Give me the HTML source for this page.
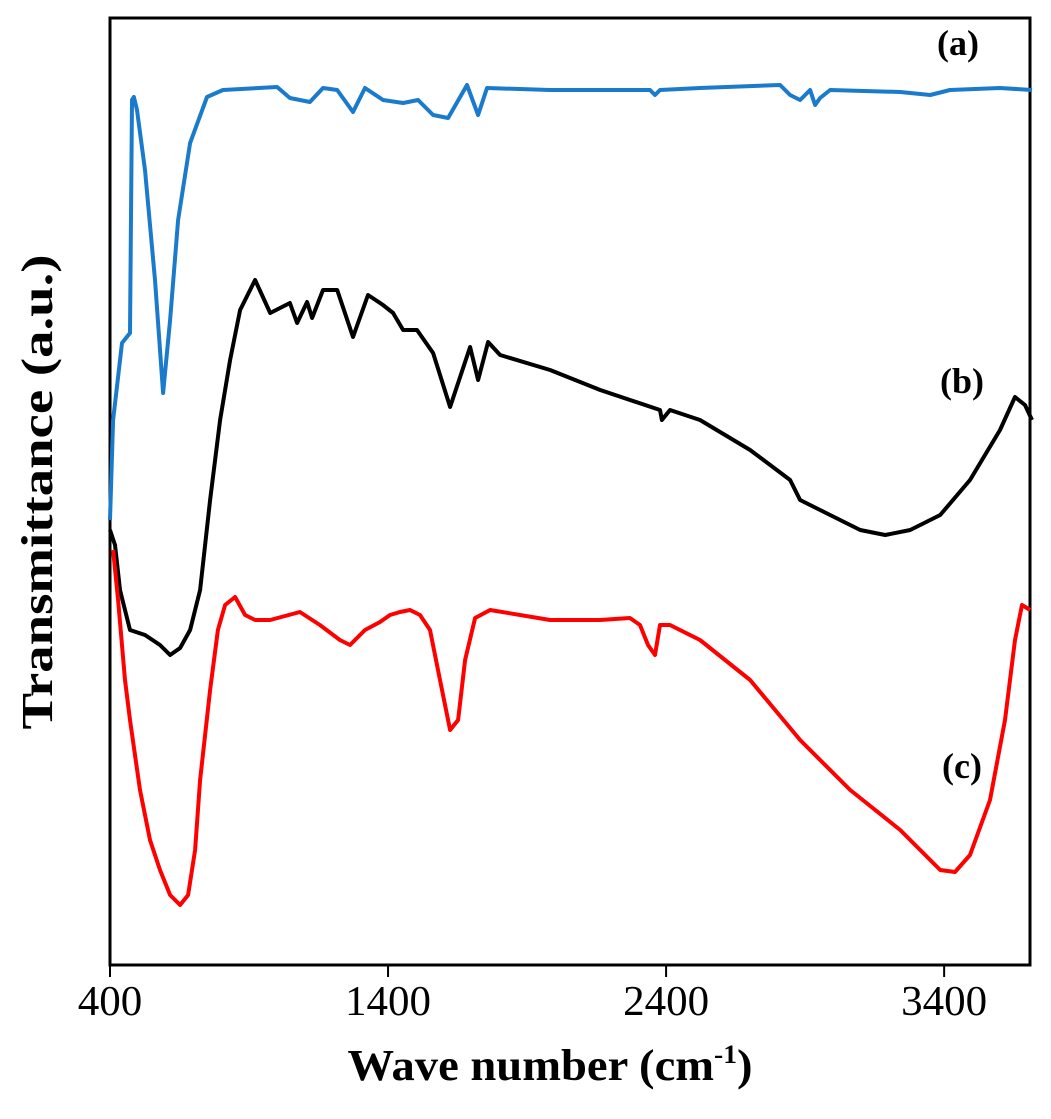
<!DOCTYPE html>
<html><head><meta charset="utf-8"><style>
html,body{margin:0;padding:0;background:#fff;}
svg{display:block;}
text{font-family:"Liberation Serif",serif;}
</style></head><body>
<svg id="chart" width="1051" height="1119" viewBox="0 0 1051 1119" xmlns="http://www.w3.org/2000/svg">
<rect x="110" y="18" width="920" height="947" fill="none" stroke="#000" stroke-width="3"/>
<g id="ticks"></g>
<text x="550" y="1080" text-anchor="middle" font-size="44" font-weight="bold" textLength="405" lengthAdjust="spacingAndGlyphs">Wave number (cm<tspan dy="-17" font-size="26">-1</tspan><tspan dy="17">)</tspan></text>
<text transform="translate(52,492) rotate(-90)" text-anchor="middle" font-size="44" font-weight="bold" textLength="475" lengthAdjust="spacingAndGlyphs">Transmittance (a.u.)</text>
<g id="series"></g>
<text x="958" y="55" text-anchor="middle" font-size="36" font-weight="bold">(a)</text>
<text x="962" y="393" text-anchor="middle" font-size="36" font-weight="bold">(b)</text>
<text x="962" y="778" text-anchor="middle" font-size="36" font-weight="bold">(c)</text>
</svg>
<script>
const xTicks = [400, 1400, 2400, 3400];
const waveA = [400,411,443,472,479,486,497,526,562,591,616,645,688,749,806,1001,1047,1083,1119,1166,1217,1274,1317,1382,1454,1508,1562,1616,1684,1724,1756,1983,2342,2360,2378,2522,2810,2846,2882,2918,2936,2954,2990,3242,3350,3421,3601,3716];
const transA = [44.5,54.5,62.2,63.2,86.5,86.8,85.5,79.5,68.5,57.2,64.5,74.5,82.2,86.8,87.5,87.8,86.7,86.5,86.3,87.7,87.5,85.3,87.7,86.5,86.2,86.5,85,84.7,88,85,87.7,87.5,87.5,87,87.5,87.7,88,87,86.5,87.5,86,86.7,87.5,87.3,87,87.5,87.7,87.5];
const waveB = [400,418,436,472,526,580,616,652,688,724,760,796,832,868,922,976,1047,1073,1109,1127,1166,1217,1274,1328,1382,1418,1454,1504,1562,1623,1695,1724,1760,1803,1983,2163,2378,2385,2414,2522,2702,2846,2882,2954,2990,3098,3188,3278,3386,3493,3601,3655,3691,3716];
const transB = [43.5,42,37.5,33.5,33,32,31,31.7,33.5,37.5,46.5,54.5,60.5,65.5,68.5,65.2,66.2,64.2,66.3,64.7,67.5,67.5,62.8,67,66,65.2,63.5,63.5,61.2,55.8,61.8,58.5,62.3,61,59.5,57.5,55.5,54.5,55.5,54.5,51.5,48.5,46.5,45.5,45,43.5,43,43.5,45,48.5,53.5,56.8,56,54.5];
const waveC = [411,429,454,472,508,544,580,616,652,681,706,724,760,788,814,850,886,922,976,1083,1155,1227,1263,1317,1371,1407,1443,1479,1515,1551,1587,1623,1652,1677,1713,1767,1983,2163,2270,2306,2335,2360,2378,2414,2522,2702,2882,3062,3242,3386,3439,3493,3565,3619,3655,3680,3709];
const transC = [41.5,36.5,28.5,24.5,17.5,12.5,9.5,7,6,7,11.5,18.5,27.5,33.5,36,36.8,35,34.5,34.5,35.3,34,32.5,32,33.5,34.3,35,35.3,35.5,35,33.5,28.5,23.5,24.5,30.5,34.7,35.5,34.5,34.5,34.7,34,32,31,34,34,32.5,28.5,22.5,17.5,13.5,9.5,9.3,11,16.5,24.5,32.5,36,35.5];

const xMin = 400, xMax = 3716, pxL = 110, pxR = 1032;
function xScale(w){ return pxL + (w - xMin) * (pxR - pxL) / (xMax - xMin); }
function yScale(v){ return 965 - v * 10; }
const NS = "http://www.w3.org/2000/svg";
const tg = document.getElementById('ticks');
xTicks.forEach(t => {
  const x = xScale(t);
  const l = document.createElementNS(NS,'line');
  l.setAttribute('x1',x);l.setAttribute('x2',x);l.setAttribute('y1',965);l.setAttribute('y2',977);
  l.setAttribute('stroke','#000');l.setAttribute('stroke-width','2');
  
  
  tg.appendChild(l);
  const tx = document.createElementNS(NS,'text');
  const label = String(t);
  tx.setAttribute('x',x);tx.setAttribute('y',1015);tx.setAttribute('text-anchor','middle');tx.setAttribute('font-size','42');
  tx.setAttribute('textLength', label.length * 21.5);tx.setAttribute('lengthAdjust','spacingAndGlyphs');
  tx.textContent = label;
  
  
  tg.appendChild(tx);
});
const sg = document.getElementById('series');
function drawLine(ws, vs, color, name){
  const p = document.createElementNS(NS,'path');
  p.setAttribute('d', ws.map((w,i)=>(i?'L':'M')+xScale(w).toFixed(1)+','+yScale(vs[i]).toFixed(1)).join(' '));
  p.setAttribute('fill','none');p.setAttribute('stroke',color);p.setAttribute('stroke-width','4');p.setAttribute('stroke-linejoin','round');
  
  
  sg.appendChild(p);
}
drawLine(waveA, transA, '#1a7acc', 'series-a-line');
drawLine(waveB, transB, '#000000', 'series-b-line');
drawLine(waveC, transC, '#ff0000', 'series-c-line');
</script>
</body></html>
